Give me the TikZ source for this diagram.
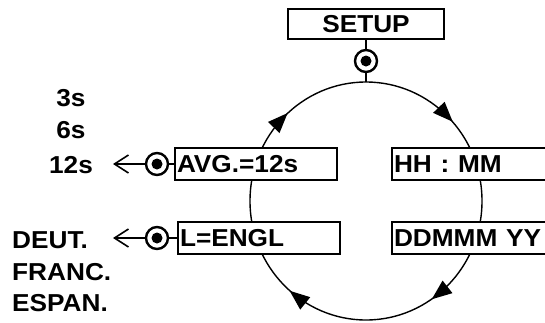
\documentclass[tikz,border=0pt]{standalone}
\usepackage{fontspec}
\setmainfont{Liberation Sans Bold}
\usepackage{graphicx}
\usepackage{tikz}
\usetikzlibrary{arrows.meta,positioning,decorations.markings}

% slightly wide display lettering
\newcommand\wide[1]{\scalebox{1.07}[1]{#1}}
% filled head on the mode ring
\newcommand\ringhead{\fill (-14pt,-8pt) -- (6pt,0pt) -- (-14pt,8pt) -- cycle;}

\begin{document}
\begin{tikzpicture}[
    x=1pt, y=-1pt,
    lcd/.style={rectangle, draw, line width=1.4pt, fill=white,
                minimum height=32pt, inner xsep=2pt, inner ysep=0pt,
                font=\fontsize{24.5}{28}\selectfont},
    lcdleft/.style={lcd, align=left, text width=#1},
    knob/.style={circle, draw, line width=2.4pt, minimum size=22pt,
                 inner sep=0pt,
                 path picture={\fill (path picture bounding box.center) circle (5.5pt);}},
    choice/.style={font=\fontsize{24.5}{28}\selectfont, inner sep=0pt},
    wire/.style={line width=1.3pt},
    arr/.style={-{Straight Barb[length=14pt, width=18pt, line width=1.6pt]},
                line width=1.5pt},
    ring/.style={line width=1.4pt, postaction={decorate},
                 decoration={markings,
                   mark=at position 0.147 with {\ringhead},
                   mark=at position 0.355 with {\ringhead},
                   mark=at position 0.625 with {\ringhead},
                   mark=at position 0.875 with {\ringhead}}},
]
\path[use as bounding box, clip] (0,0) rectangle (545,322);

% Mode ring (clockwise)
\draw[ring] (366,201) ellipse [x radius=116, y radius=119];

% Top: setup key
\node[lcd, minimum width=156pt, minimum height=30pt] (setup) at (366,24) {\wide{SETUP}};
\node[knob] (setupknob) at (366,61) {};
\coordinate (ringtop) at (366,82);

% Left column: display boxes
\node[lcdleft=158pt] (avg) at (256,164) {\wide{AVG.=12s}};
\node[lcdleft=158pt] (lang) at (259,238) {\wide{L=ENGL}};

% Right column: display boxes
\node[lcdleft=206pt] (time) at (497,164) {\wide{HH : MM}};
\node[lcdleft=206pt] (date) at (497,238) {\wide{DDMMM YY}};

% Knobs and arrow ends
\node[knob] (avgknob) at (157,164) {};
\node[knob] (langknob) at (157,238) {};
\coordinate (avgtip) at (113,164);
\coordinate (langtip) at (113,238);

% Choices
\node[choice] (avg3) at (71,98) {\wide{3s}};
\node[choice] (avg6) at (71,130) {\wide{6s}};
\node[choice] (avg12) at (71,165) {\wide{12s}};
\node[choice, anchor=west] (deut) at (12,240) {\wide{DEUT.}};
\node[choice, anchor=west] (franc) at (12,272) {\wide{FRANC.}};
\node[choice, anchor=west] (espan) at (12,303) {\wide{ESPAN.}};

% Connectors
\draw[wire] (setup) -- (setupknob);
\draw[wire] (setupknob) -- (ringtop);
\draw[wire] (avg) -- (avgknob);
\draw[wire] (lang) -- (langknob);
\draw[arr] (avgknob) -- (avgtip);
\draw[arr] (langknob) -- (langtip);

\end{tikzpicture}
\end{document}
